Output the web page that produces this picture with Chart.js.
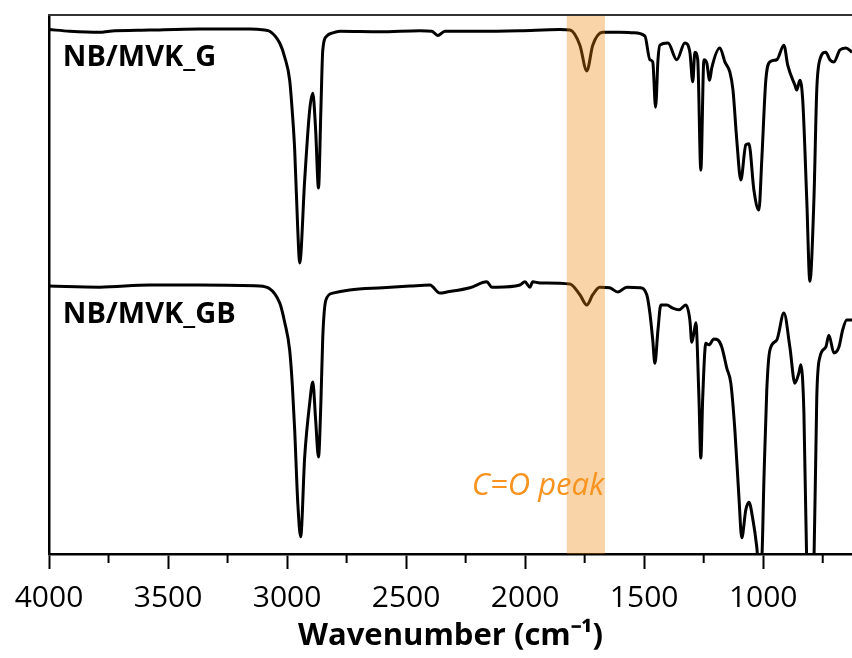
<!DOCTYPE html>
<html>
<head>
<meta charset="utf-8">
<script src="https://cdn.jsdelivr.net/npm/chart.js@4/dist/chart.umd.min.js"></script>
<style>
    html, body { margin: 0; padding: 0; background: #fff; }
    #wrap { width: 852px; height: 658px; }
</style>
</head>
<body>
<div id="wrap"><canvas id="irChart" width="852" height="658"></canvas></div>
<script>
// FTIR spectra, wavenumbers in cm-1, transmittance in arbitrary offset units
const wnG = [4000, 3913, 3787, 3745, 3577, 3367, 3157, 3094, 3073, 3031, 3010, 2989, 2978, 2968, 2955, 2947, 2926, 2905, 2892, 2880, 2868, 2858, 2850, 2833, 2808, 2778, 2610, 2442, 2392, 2367, 2337, 2190, 2022, 1855, 1812, 1770, 1741, 1716, 1674, 1602, 1547, 1497, 1476, 1464, 1452, 1442, 1434, 1400, 1363, 1329, 1308, 1296, 1287, 1275, 1262, 1249, 1237, 1225, 1216, 1182, 1161, 1140, 1127, 1111, 1094, 1073, 1060, 1039, 1018, 1006, 989, 972, 943, 913, 897, 867, 859, 846, 834, 817, 804, 787, 775, 762, 737, 720, 703, 678, 653, 627];
const tG = [97.3, 97.0, 96.8, 97.0, 97.2, 97.4, 97.4, 97.2, 97.0, 94.8, 92.2, 87.9, 82.0, 75.0, 60.1, 54.0, 69.4, 82.4, 85.5, 78.7, 67.9, 82.4, 93.5, 96.1, 96.7, 97.0, 96.9, 97.1, 97.0, 96.2, 97.0, 97.0, 97.1, 97.3, 97.2, 94.4, 89.6, 94.4, 96.8, 96.8, 96.7, 96.1, 91.7, 91.3, 82.9, 91.7, 94.4, 94.8, 91.7, 94.8, 93.1, 87.6, 93.1, 91.7, 71.2, 91.7, 91.1, 87.9, 90.2, 93.9, 91.3, 89.4, 86.1, 76.8, 69.4, 75.9, 76.1, 67.5, 63.8, 73.1, 87.9, 91.3, 91.7, 94.4, 90.7, 87.0, 86.1, 87.9, 84.2, 65.7, 50.6, 65.7, 86.1, 91.7, 93.1, 91.7, 91.3, 93.5, 93.9, 93.1];

const wnGB = [4000, 3787, 3577, 3367, 3115, 3031, 3010, 2989, 2978, 2968, 2955, 2943, 2926, 2905, 2892, 2880, 2868, 2858, 2850, 2837, 2808, 2737, 2598, 2484, 2400, 2358, 2329, 2232, 2161, 2140, 2119, 2022, 2001, 1980, 1968, 1938, 1812, 1770, 1741, 1716, 1687, 1645, 1611, 1573, 1518, 1489, 1476, 1464, 1455, 1442, 1430, 1405, 1380, 1354, 1325, 1308, 1300, 1291, 1283, 1270, 1262, 1254, 1241, 1228, 1207, 1190, 1174, 1153, 1136, 1119, 1102, 1090, 1073, 1060, 1043, 1027, 1018, 1006, 997, 985, 972, 943, 913, 888, 867, 850, 842, 829, 817, 804, 796, 787, 775, 762, 737, 724, 703, 682, 666, 649, 627];
const tGB = [49.7, 49.5, 49.9, 49.9, 49.7, 46.6, 43.0, 37.8, 31.4, 23.0, 9.5, 3.2, 18.0, 28.0, 31.9, 24.9, 18.0, 28.0, 40.3, 47.1, 48.4, 49.0, 49.4, 49.7, 49.9, 48.4, 48.6, 49.4, 50.5, 49.5, 49.5, 49.9, 50.5, 49.5, 50.5, 50.3, 50.1, 48.1, 46.2, 48.1, 49.5, 49.4, 48.6, 49.5, 49.4, 48.1, 44.7, 39.7, 35.4, 41.6, 46.2, 46.2, 45.6, 45.3, 46.2, 43.4, 39.3, 41.0, 42.9, 29.1, 17.8, 29.1, 39.1, 38.8, 39.9, 39.7, 38.4, 34.5, 31.7, 23.0, 10.6, 3.0, 8.2, 9.6, 6.3, 1.3, -3, -1, 13.7, 30.4, 37.8, 39.7, 44.7, 38.4, 31.7, 33.6, 35.1, 26.2, -2, -8, -6, -2, 29.1, 36.5, 38.4, 40.6, 37.3, 38.4, 41.6, 43.4, 43.4];

const majorTicks = [4000, 3500, 3000, 2500, 2000, 1500, 1000];
const minorTicks = [3750, 3250, 2750, 2250, 1750, 1250, 750];
const bandRange = [1825, 1665];
const seriesNames = ['NB/MVK_G', 'NB/MVK_GB'];
const bandLabel = 'C=O peak';

function toPoints(xs, ys) {
    return xs.map((x, i) => ({ x: x, y: ys[i] }));
}

// orange band over the traces, minor ticks, top frame and text labels
const decorations = {
    id: 'decorations',
    afterDatasetsDraw(chart) {
        const ctx = chart.ctx;
        const area = chart.chartArea;
        const xs = chart.scales.x;
        const ys = chart.scales.y;

        const x1 = xs.getPixelForValue(bandRange[0]);
        const x2 = xs.getPixelForValue(bandRange[1]);
        ctx.save();
        ctx.fillStyle = 'rgba(238, 132, 6, 0.35)';
        ctx.fillRect(x1, area.top, x2 - x1, area.bottom - area.top);

        // top frame line
        ctx.strokeStyle = '#333';
        ctx.lineWidth = 2;
        ctx.beginPath();
        ctx.moveTo(area.left - 1, area.top);
        ctx.lineTo(area.right, area.top);
        ctx.stroke();

        // minor ticks
        ctx.strokeStyle = '#000';
        ctx.lineWidth = 2;
        minorTicks.forEach(v => {
            const px = xs.getPixelForValue(v);
            if (px < area.left || px > area.right) return;
            ctx.beginPath();
            ctx.moveTo(px, area.bottom);
            ctx.lineTo(px, area.bottom + 9);
            ctx.stroke();
        });

        // series labels
        ctx.fillStyle = '#000';
        ctx.textBaseline = 'alphabetic';
        ctx.font = 'bold 29px "Open Sans"';
        ctx.fillText(seriesNames[0], xs.getPixelForValue(3942), ys.getPixelForValue(90.5));
        ctx.fillText(seriesNames[1], xs.getPixelForValue(3942), ys.getPixelForValue(42.9));

        ctx.fillStyle = '#f7931e';
        ctx.font = 'italic 31px "Open Sans"';
        ctx.fillText(bandLabel, xs.getPixelForValue(2224), ys.getPixelForValue(10.9));
        ctx.restore();
    }
};

const lineStyle = {
    borderColor: '#000',
    borderWidth: 3,
    pointRadius: 0,
    fill: false,
    cubicInterpolationMode: 'monotone'
};

new Chart(document.getElementById('irChart'), {
    type: 'line',
    data: {
        datasets: [
            Object.assign({ label: seriesNames[0], data: toPoints(wnG, tG) }, lineStyle),
            Object.assign({ label: seriesNames[1], data: toPoints(wnGB, tGB) }, lineStyle)
        ]
    },
    options: {
        responsive: false,
        animation: false,
        devicePixelRatio: 1,
        layout: {
            padding: { top: 15, right: 0, left: 0, bottom: 0 }
        },
        plugins: {
            legend: { display: false },
            tooltip: { enabled: false }
        },
        scales: {
            x: {
                type: 'linear',
                reverse: true,
                min: 627,
                max: 4000,
                afterBuildTicks: scale => {
                    scale.ticks = majorTicks.map(v => ({ value: v }));
                },
                afterFit: scale => {
                    scale.height = 104;
                },
                grid: {
                    drawOnChartArea: false,
                    tickLength: 15,
                    tickWidth: 2,
                    tickColor: '#000'
                },
                border: { color: '#000', width: 2.5 },
                ticks: {
                    color: '#000',
                    padding: 11,
                    maxRotation: 0,
                    autoSkip: false,
                    font: { family: 'Open Sans', size: 30 },
                    callback: value => String(value)
                },
                title: {
                    display: true,
                    text: 'Wavenumber (cm⁻¹)',
                    color: '#000',
                    padding: { top: 0, bottom: 3 },
                    font: { family: 'Open Sans', size: 31, weight: 'bold' }
                }
            },
            y: {
                min: 0,
                max: 100,
                afterFit: scale => {
                    scale.width = 49;
                },
                grid: {
                    drawOnChartArea: false,
                    drawTicks: false
                },
                border: { color: '#000', width: 2.5 },
                ticks: { display: false }
            }
        }
    },
    plugins: [decorations]
});
</script>
</body>
</html>
